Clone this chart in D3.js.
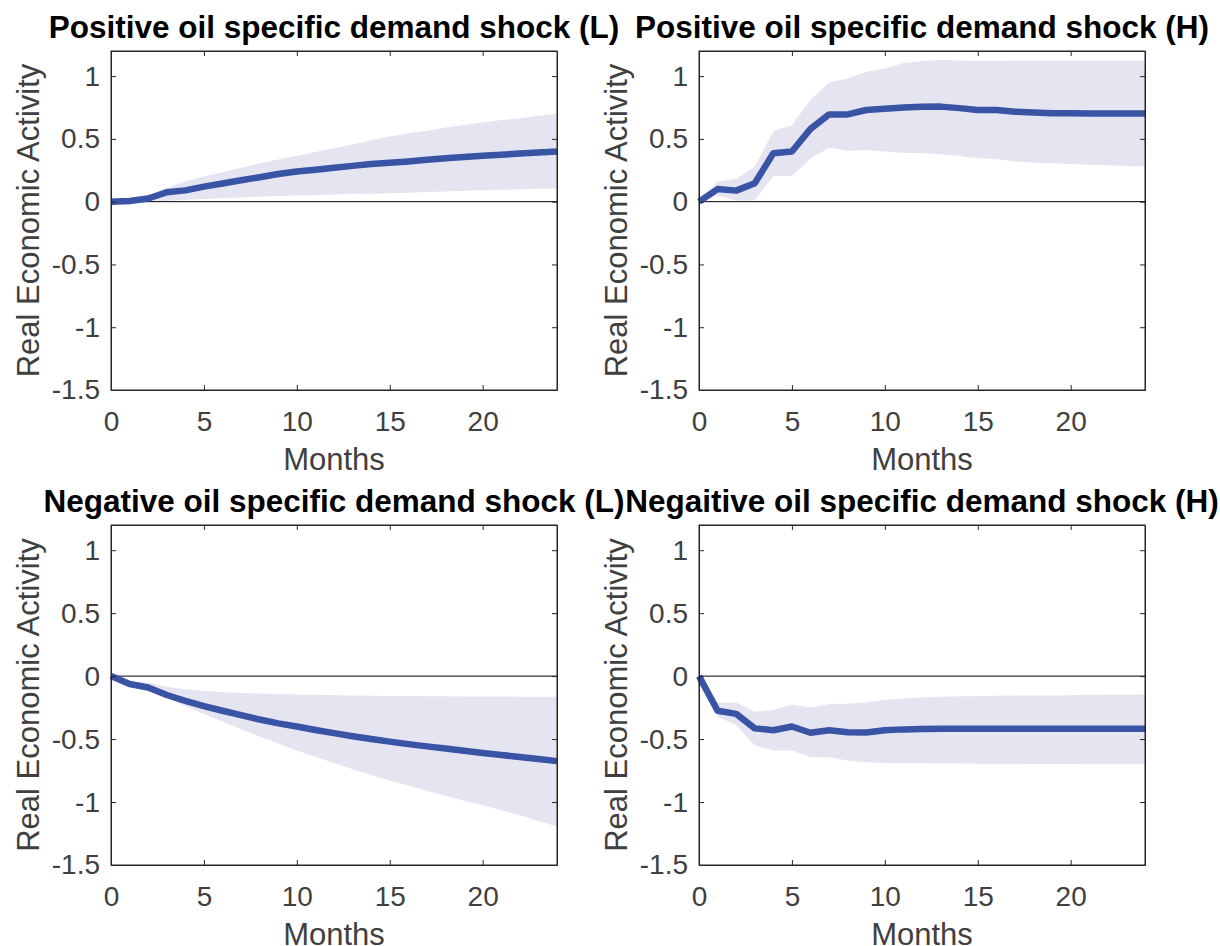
<!DOCTYPE html>
<html>
<head>
<meta charset="utf-8">
<script src="https://cdn.jsdelivr.net/npm/d3@7"></script>
<style>
  body { margin: 0; background: #fff; }
  svg { font-family: "Liberation Sans", Arial, sans-serif; }
</style>
</head>
<body>
<script>
"use strict";
// months 0..24
const months = d3.range(0, 25)
const xTicks = [0, 5, 10, 15, 20]
const yTicks = [-1.5, -1, -0.5, 0, 0.5, 1]
const yTickLabels = ["-1.5", "-1", "-0.5", "0", "0.5", "1"]

const titles = [
    "Positive oil specific demand shock (L)",
    "Positive oil specific demand shock (H)",
    "Negative oil specific demand shock (L)",
    "Negaitive oil specific demand shock (H)"
]

// positive shock, low regime
const posLMid = [0, 0.005, 0.025, 0.075, 0.09, 0.12, 0.145, 0.17, 0.195, 0.22, 0.24, 0.255, 0.27, 0.285, 0.30, 0.31, 0.32, 0.333, 0.345, 0.355, 0.365, 0.374, 0.383, 0.392, 0.40]
const posLUp = [0, 0.01, 0.05, 0.11, 0.16, 0.2, 0.235, 0.27, 0.305, 0.335, 0.365, 0.395, 0.425, 0.455, 0.49, 0.52, 0.545, 0.565, 0.59, 0.61, 0.63, 0.65, 0.665, 0.685, 0.70]
const posLLo = [0, -0.01, -0.005, 0.005, 0.015, 0.022, 0.028, 0.034, 0.04, 0.045, 0.05, 0.054, 0.058, 0.061, 0.064, 0.067, 0.072, 0.076, 0.081, 0.086, 0.09, 0.094, 0.098, 0.102, 0.105]

// positive shock, high regime
const posHMid = [0, 0.1, 0.088, 0.146, 0.385, 0.40, 0.58, 0.695, 0.695, 0.73, 0.74, 0.75, 0.755, 0.757, 0.745, 0.73, 0.73, 0.717, 0.71, 0.705, 0.705, 0.703, 0.703, 0.703, 0.703]
const posHUp = [0, 0.16, 0.18, 0.28, 0.56, 0.61, 0.81, 0.95, 0.98, 1.035, 1.06, 1.105, 1.12, 1.13, 1.125, 1.12, 1.12, 1.123, 1.123, 1.123, 1.123, 1.123, 1.123, 1.123, 1.123]
const posHLo = [0, 0.05, 0.01, 0.01, 0.205, 0.205, 0.345, 0.43, 0.405, 0.41, 0.40, 0.39, 0.385, 0.377, 0.364, 0.345, 0.34, 0.32, 0.31, 0.305, 0.30, 0.295, 0.29, 0.284, 0.28]

// negative shock, low regime
const negLMid = [0, -0.063, -0.09, -0.15, -0.196, -0.238, -0.275, -0.31, -0.345, -0.375, -0.40, -0.428, -0.453, -0.477, -0.499, -0.52, -0.54, -0.558, -0.575, -0.592, -0.61, -0.626, -0.642, -0.658, -0.675]
const negLUp = [0, -0.045, -0.05, -0.085, -0.105, -0.118, -0.127, -0.134, -0.139, -0.143, -0.146, -0.149, -0.151, -0.153, -0.155, -0.157, -0.158, -0.159, -0.16, -0.161, -0.162, -0.162, -0.163, -0.163, -0.164]
const negLLo = [0, -0.075, -0.1, -0.17, -0.24, -0.30, -0.36, -0.42, -0.48, -0.535, -0.59, -0.64, -0.69, -0.74, -0.785, -0.83, -0.87, -0.91, -0.95, -0.99, -1.025, -1.065, -1.105, -1.15, -1.195]

// negative shock, high regime
const negHMid = [0, -0.275, -0.30, -0.415, -0.43, -0.40, -0.45, -0.43, -0.445, -0.447, -0.43, -0.423, -0.42, -0.418, -0.418, -0.418, -0.418, -0.418, -0.418, -0.418, -0.418, -0.418, -0.418, -0.418, -0.418]
const negHUp = [0, -0.21, -0.21, -0.283, -0.27, -0.225, -0.25, -0.222, -0.22, -0.21, -0.19, -0.177, -0.17, -0.164, -0.16, -0.159, -0.155, -0.153, -0.153, -0.153, -0.152, -0.148, -0.147, -0.146, -0.146]
const negHLo = [0, -0.32, -0.39, -0.55, -0.59, -0.59, -0.645, -0.645, -0.67, -0.685, -0.69, -0.69, -0.692, -0.693, -0.694, -0.695, -0.695, -0.696, -0.697, -0.698, -0.698, -0.699, -0.70, -0.70, -0.70]

const panels = [
    { mid: posLMid, up: posLUp, lo: posLLo },
    { mid: posHMid, up: posHUp, lo: posHLo },
    { mid: negLMid, up: negLUp, lo: negLLo },
    { mid: negHMid, up: negHUp, lo: negHLo }
]

const width = 1220, height = 946
const boxes = [
    { left: 111, top: 51, right: 557, bottom: 390 },
    { left: 699, top: 51, right: 1145, bottom: 390 },
    { left: 111, top: 525, right: 557, bottom: 865 },
    { left: 699, top: 525, right: 1145, bottom: 865 }
]

const axisColor = "#262626"
const textColor = "#404040"

const svg = d3.select("body").append("svg")
    .attr("width", width)
    .attr("height", height)

panels.forEach(function(p, i) {
    const b = boxes[i]
    const x = d3.scaleLinear().domain([0, 24]).range([b.left, b.right])
    const y = d3.scaleLinear().domain([-1.5, 1.2]).range([b.bottom, b.top])
    const g = svg.append("g")

    // confidence band
    const area = d3.area()
        .x((d, k) => x(months[k]))
        .y0((d, k) => y(p.lo[k]))
        .y1((d, k) => y(p.up[k]))
    g.append("path")
        .datum(months)
        .attr("d", area)
        .attr("fill", "#e5e5f2")

    // zero line
    g.append("line")
        .attr("x1", x(0)).attr("x2", x(24))
        .attr("y1", y(0)).attr("y2", y(0))
        .attr("stroke", "#000")
        .attr("stroke-width", 1)

    // impulse response
    const line = d3.line()
        .x((d, k) => x(months[k]))
        .y((d, k) => y(p.mid[k]))
    g.append("path")
        .datum(months)
        .attr("d", line)
        .attr("fill", "none")
        .attr("stroke", "#3953a5")
        .attr("stroke-width", 6.5)
        .attr("stroke-linejoin", "round")

    // axes, ticks inward on all four sides
    const xB = d3.axisBottom(x).tickValues(xTicks).tickSizeInner(-5).tickSizeOuter(0).tickPadding(21)
    const xT = d3.axisTop(x).tickValues(xTicks).tickSizeInner(-5).tickSizeOuter(0).tickFormat("")
    const yL = d3.axisLeft(y).tickValues(yTicks).tickSizeInner(-5).tickSizeOuter(0).tickPadding(11)
        .tickFormat((d, k) => yTickLabels[k])
    const yR = d3.axisRight(y).tickValues(yTicks).tickSizeInner(-5).tickSizeOuter(0).tickFormat("")

    const axes = [
        g.append("g").attr("transform", `translate(0,${b.bottom})`).call(xB),
        g.append("g").attr("transform", `translate(0,${b.top})`).call(xT),
        g.append("g").attr("transform", `translate(${b.left},0)`).call(yL),
        g.append("g").attr("transform", `translate(${b.right},0)`).call(yR)
    ]
    axes.forEach(function(a) {
        a.select(".domain").attr("stroke", axisColor).attr("stroke-width", 1)
        a.selectAll(".tick line").attr("stroke", axisColor)
        a.selectAll(".tick text")
            .attr("fill", textColor)
            .style("font-size", "28px")
            .style("font-family", "Liberation Sans, Arial, sans-serif")
    })
    // box edges
    g.append("rect")
        .attr("x", b.left).attr("y", b.top)
        .attr("width", b.right - b.left).attr("height", b.bottom - b.top)
        .attr("fill", "none")
        .attr("stroke", axisColor)
        .attr("stroke-width", 1)

    // labels
    g.append("text")
        .attr("x", (b.left + b.right) / 2)
        .attr("y", b.top - 13)
        .attr("text-anchor", "middle")
        .style("font-size", "31.5px")
        .style("font-weight", "bold")
        .attr("fill", "#000")
        .text(titles[i])
    g.append("text")
        .attr("x", (b.left + b.right) / 2)
        .attr("y", b.bottom + 80)
        .attr("text-anchor", "middle")
        .style("font-size", "31px")
        .attr("fill", textColor)
        .text("Months")
    g.append("text")
        .attr("transform", `translate(${b.left - 72},${(b.top + b.bottom) / 2})rotate(-90)`)
        .attr("text-anchor", "middle")
        .style("font-size", "31px")
        .attr("fill", textColor)
        .text("Real Economic Activity")
})
</script>
</body>
</html>
